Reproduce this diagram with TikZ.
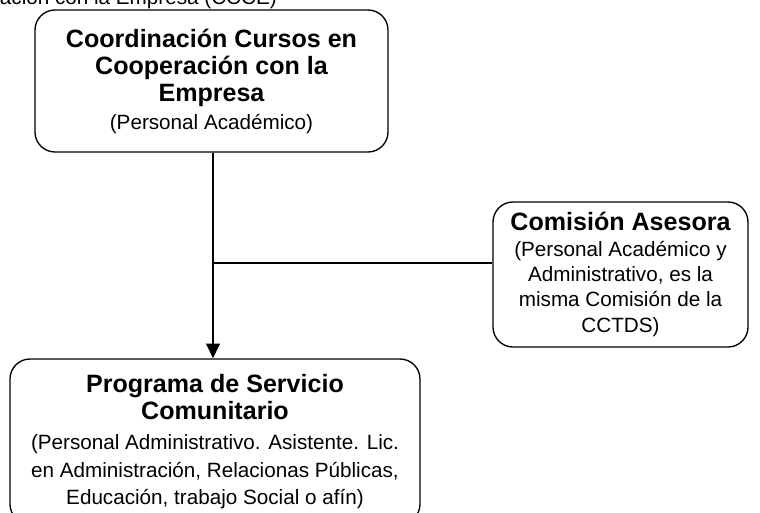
\documentclass[tikz,border=0pt]{standalone}
\usepackage{fontspec}
\setmainfont{Liberation Sans}
\usetikzlibrary{arrows.meta}
\tikzset{
  box/.style={draw=black, line width=1pt, rounded corners=15pt, align=center, inner sep=0pt},
  conn/.style={draw=black, line width=1pt},
  mainarrow/.style={draw=black, line width=2pt, -{Triangle[length=11pt,width=10pt]}}
}
\newcommand{\nrmline}[1]{{\fontsize{15.5}{18}\selectfont #1}}
\newcommand{\bldline}[1]{{\fontsize{18.8}{22}\selectfont\bfseries #1}}
\begin{document}
\begin{tikzpicture}[x=0.75pt,y=-0.75pt]
\useasboundingbox (0,0) rectangle (760,512);
\node[anchor=base east, inner sep=0pt, font=\fontsize{15.5}{18}\selectfont] (top) at (277,4) {ación con la Empresa (CCCE)};
\node[box, minimum width=264.75pt, minimum height=106.5pt, font=\fontsize{15.5}{20.5}\selectfont] (b1) at (211.5,81)
  {\bldline{Coordinación Cursos en}\\ \bldline{Cooperación con la}\\ \bldline{Empresa}\\ \nrmline{(Personal Académico)}};
\node[box, minimum width=191.25pt, minimum height=108.75pt, font=\fontsize{15.5}{19}\selectfont] (b2) at (620.5,274.5)
  {\bldline{Comisión Asesora}\\
   \nrmline{(Personal Académico y}\\ \nrmline{Administrativo, es la}\\ \nrmline{misma Comisión de la}\\ \nrmline{CCTDS)}};
\node[box, minimum width=307.5pt, minimum height=123.75pt, font=\fontsize{15.5}{20.5}\selectfont] (b3) at (215,441.5)
  {\bldline{Programa de Servicio}\\ \bldline{Comunitario}\\[2pt]
   \nrmline{(Personal Administrativo. Asistente. Lic.}\\ \nrmline{en Administración, Relacionas Públicas,}\\ \nrmline{Educación, trabajo Social o afín)}};
\coordinate (ax) at (213,0);
\coordinate (jn) at (213,263);
\draw[mainarrow] (b1.south -| ax) -- (b3.north -| ax);
\draw[conn] (jn) -- (jn -| b2.west);
\end{tikzpicture}
\end{document}
